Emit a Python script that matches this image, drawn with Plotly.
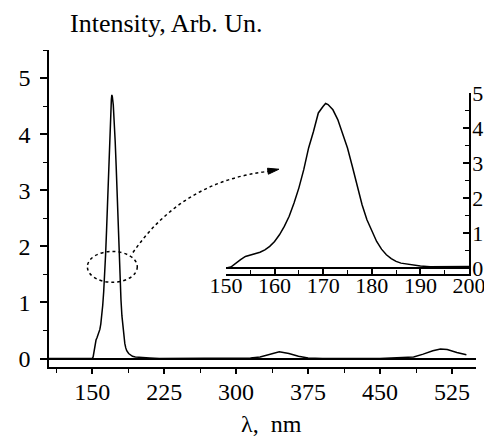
import plotly.graph_objects as go

# Spectrum data (wavelength nm, intensity arb. units)
wavelength = [105, 130, 150, 151, 152, 153, 154, 155, 156, 157, 158, 159, 160,
              161, 162, 163, 164, 165, 166, 167, 168, 169, 170, 170.5, 171, 172,
              173, 174, 175, 176, 177, 178, 179, 180, 181, 182, 183, 184, 185,
              186, 188, 190, 192, 195, 200, 210, 220, 260, 300, 315, 325, 335,
              345, 355, 365, 375, 390, 450, 470, 485, 495, 505, 513, 520, 530, 540]
intensity = [0.0, 0.0, 0.0, 0.03, 0.14, 0.24, 0.33, 0.37, 0.41, 0.45, 0.52, 0.62, 0.76,
             0.95, 1.19, 1.48, 1.86, 2.29, 2.81, 3.43, 3.90, 4.43, 4.62, 4.70, 4.67, 4.52,
             4.24, 3.86, 3.43, 2.90, 2.33, 1.81, 1.38, 1.05, 0.76, 0.54, 0.38, 0.27, 0.19,
             0.14, 0.09, 0.06, 0.04, 0.03, 0.02, 0.01, 0.0, 0.0, 0.0, 0.01, 0.03, 0.08,
             0.12, 0.09, 0.04, 0.01, 0.0, 0.0, 0.01, 0.03, 0.08, 0.14, 0.17, 0.16, 0.11, 0.07]

main_ticks = [150, 225, 300, 375, 450, 525]
main_yticks = [0, 1, 2, 3, 4, 5]
inset_ticks = [150, 160, 170, 180, 190, 200]
inset_yticks = [0, 1, 2, 3, 4, 5]

FONT = "Liberation Serif, Times New Roman, serif"

fig = go.Figure()
fig.add_trace(go.Scatter(x=wavelength, y=intensity, mode="lines",
                         line=dict(color="black", width=1.5),
                         xaxis="x", yaxis="y", showlegend=False, hoverinfo="skip"))
fig.add_trace(go.Scatter(x=wavelength, y=intensity, mode="lines",
                         line=dict(color="black", width=1.5),
                         xaxis="x2", yaxis="y2", showlegend=False, hoverinfo="skip"))

axis_common = dict(showgrid=False, showline=True, linecolor="black", linewidth=1.5,
                   tickcolor="black", tickwidth=1.5, automargin=False)
main_font = dict(family=FONT, size=24, color="black")
inset_font = dict(family=FONT, size=22, color="black")

# page body adds an 8px offset, so the figure is 8px smaller on each side
fig.update_layout(
    template="none",
    width=484, height=429,
    margin=dict(l=41, r=16, t=42, b=70, autoexpand=False),
    font=dict(family=FONT, color="black"),
    paper_bgcolor="white", plot_bgcolor="rgba(0,0,0,0)",
    xaxis=dict(domain=[0, 1], range=[105, 550], tickvals=main_ticks,
               ticks="outside", ticklen=5, zeroline=False, tickfont=main_font,
               minor=dict(ticks="outside", ticklen=4, dtick=37.5, tick0=150,
                          tickcolor="black", tickwidth=1.2),
               anchor="y", ticklabelstandoff=-3, **axis_common),
    yaxis=dict(domain=[0, 1], range=[-0.15, 5.5], tickvals=main_yticks,
               ticks="outside", ticklen=7, zeroline=True, zerolinecolor="black",
               zerolinewidth=1.5, tickfont=main_font,
               minor=dict(ticks="outside", ticklen=4, dtick=0.5, tick0=0,
                          tickcolor="black", tickwidth=1.2),
               anchor="x", ticklabelstandoff=5, **axis_common),
    xaxis2=dict(domain=[0.4145, 0.9836], range=[150, 200], tickvals=inset_ticks,
                ticks="inside", ticklen=5, zeroline=False, tickfont=inset_font,
                minor=dict(ticks="inside", ticklen=4, dtick=5, tick0=150,
                           tickcolor="black", tickwidth=1.2),
                anchor="y2", ticklabelstandoff=-9, **axis_common),
    yaxis2=dict(domain=[0.2934, 0.8644], range=[-0.17, 5.0], tickvals=inset_yticks,
                ticks="inside", ticklen=6, side="right", zeroline=True,
                zerolinecolor="black", zerolinewidth=2.2, tickfont=inset_font,
                minor=dict(ticks="inside", ticklen=4, dtick=0.5, tick0=0,
                           tickcolor="black", tickwidth=1.2),
                anchor="x2", ticklabelstandoff=-3, **axis_common),
)

# Y-axis label (top-left) and x-axis label
fig.add_annotation(text="Intensity, Arb. Un.", xref="paper", yref="paper",
                   x=0.0445, y=1.0836, xanchor="left", yanchor="middle",
                   showarrow=False, font=dict(family=FONT, size=26, color="black"))
fig.add_annotation(text="λ,\u00a0\u00a0nm", xref="paper", yref="paper",
                   x=0.522, y=-0.18, xanchor="center", yanchor="middle",
                   showarrow=False, font=dict(family=FONT, size=24, color="black"))

# Dotted ellipse marking the zoomed region
fig.add_shape(type="circle", xref="x", yref="y", x0=145, x1=197, y0=1.36, y1=1.91,
              line=dict(color="black", width=1.5, dash="dot"))
# Dotted curved arrow toward the inset
fig.add_shape(type="path", xref="x", yref="y",
              path="M 192.5,1.89 Q 244.1,3.17 335.2,3.34",
              line=dict(color="black", width=1.5, dash="dot"))
fig.add_shape(type="path", xref="x", yref="y",
              path="M 344.6,3.375 L 333.6,3.286 L 332.7,3.393 Z",
              fillcolor="black", line=dict(color="black", width=1))

fig.write_html("out.html")
